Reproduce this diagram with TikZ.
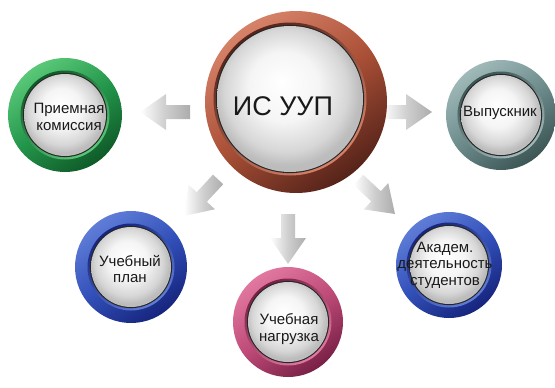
\documentclass[tikz,border=0pt]{standalone}
\usepackage{fontspec}
\setmainfont{Liberation Sans}
\definecolor{txt}{RGB}{25,25,25}
\definecolor{brL}{RGB}{214,130,105}\definecolor{brM}{RGB}{170,80,55}\definecolor{brD}{RGB}{85,35,25}
\definecolor{grL}{RGB}{90,200,120}\definecolor{grM}{RGB}{35,150,75}\definecolor{grD}{RGB}{15,90,40}
\definecolor{tlL}{RGB}{160,185,185}\definecolor{tlM}{RGB}{110,140,140}\definecolor{tlD}{RGB}{60,85,85}
\definecolor{blL}{RGB}{95,125,215}\definecolor{blM}{RGB}{50,80,185}\definecolor{blD}{RGB}{22,36,125}
\definecolor{pkL}{RGB}{225,120,160}\definecolor{pkM}{RGB}{190,75,120}\definecolor{pkD}{RGB}{120,32,70}
\pgfdeclareradialshading{diskshade}{\pgfpoint{-3bp}{6bp}}{color(0bp)=(white); color(12bp)=(white!96!black); color(21bp)=(white!84!black); color(25bp)=(white!74!black); color(40bp)=(white!70!black)}
\newcommand\drawbubble[5]{%
  \shade[top color=#5L, bottom color=#5D, middle color=#5M, shading angle=35] #1 circle (#2);
  \shade[top color=#5D, bottom color=#5L, shading angle=35] #3 circle ({#4+3.5});
  \fill[black!85] #3 circle ({#4+1.1});
  \shade[shading=diskshade] #3 circle (#4);
}
\newcommand\blockarrow[2]{%
  \begin{scope}[shift={#1}, rotate=#2]
    \shade[bottom color=white, top color=gray!65, middle color=gray!38, shading angle=-90]
      (0,0) -- (-26,-18) -- (-26,-7) -- (-50,-7) -- (-50,7) -- (-26,7) -- (-26,18) -- cycle;
  \end{scope}}
\tikzset{lbl/.style={font=\fontsize{15}{16.5}\selectfont, text=txt, align=center, inner sep=0pt}}
\begin{document}
\begin{tikzpicture}[x=1pt,y=-1pt]
\useasboundingbox (0,0) rectangle (555,388);
% arrows
\coordinate (a1) at (140,112);
\coordinate (a2) at (432,112);
\coordinate (a3) at (184,216);
\coordinate (a4) at (288,264);
\coordinate (a5) at (395,214);
\blockarrow{(a1)}{180}
\blockarrow{(a2)}{0}
\blockarrow{(a3)}{227}
\blockarrow{(a4)}{270}
\blockarrow{(a5)}{-43}
% bubbles
\drawbubble{(65,115)}{57}{(65,115)}{41}{gr}
\drawbubble{(501,115)}{55}{(501,115)}{40}{tl}
\drawbubble{(131,267)}{56}{(131,267)}{40}{bl}
\drawbubble{(288,322)}{55}{(288,322)}{40}{pk}
\drawbubble{(449,265)}{53}{(449,265)}{39}{bl}
\drawbubble{(296,102)}{91}{(290,99)}{73}{br}
% texts
\node[font=\fontsize{27}{30}\selectfont, text=txt, inner sep=0pt] (is) at (283,106) {ИС УУП};
\node[lbl] (pk) at (69,117) {Приемная\\комиссия};
\node[lbl] (vp) at (500,113) {Выпускник};
\node[lbl] (up) at (130,269) {Учебный\\план};
\node[lbl] (un) at (289,329) {Учебная\\нагрузка};
\node[lbl] (ak) at (445,265) {Академ.\\деятельность\\студентов};
\end{tikzpicture}
\end{document}
